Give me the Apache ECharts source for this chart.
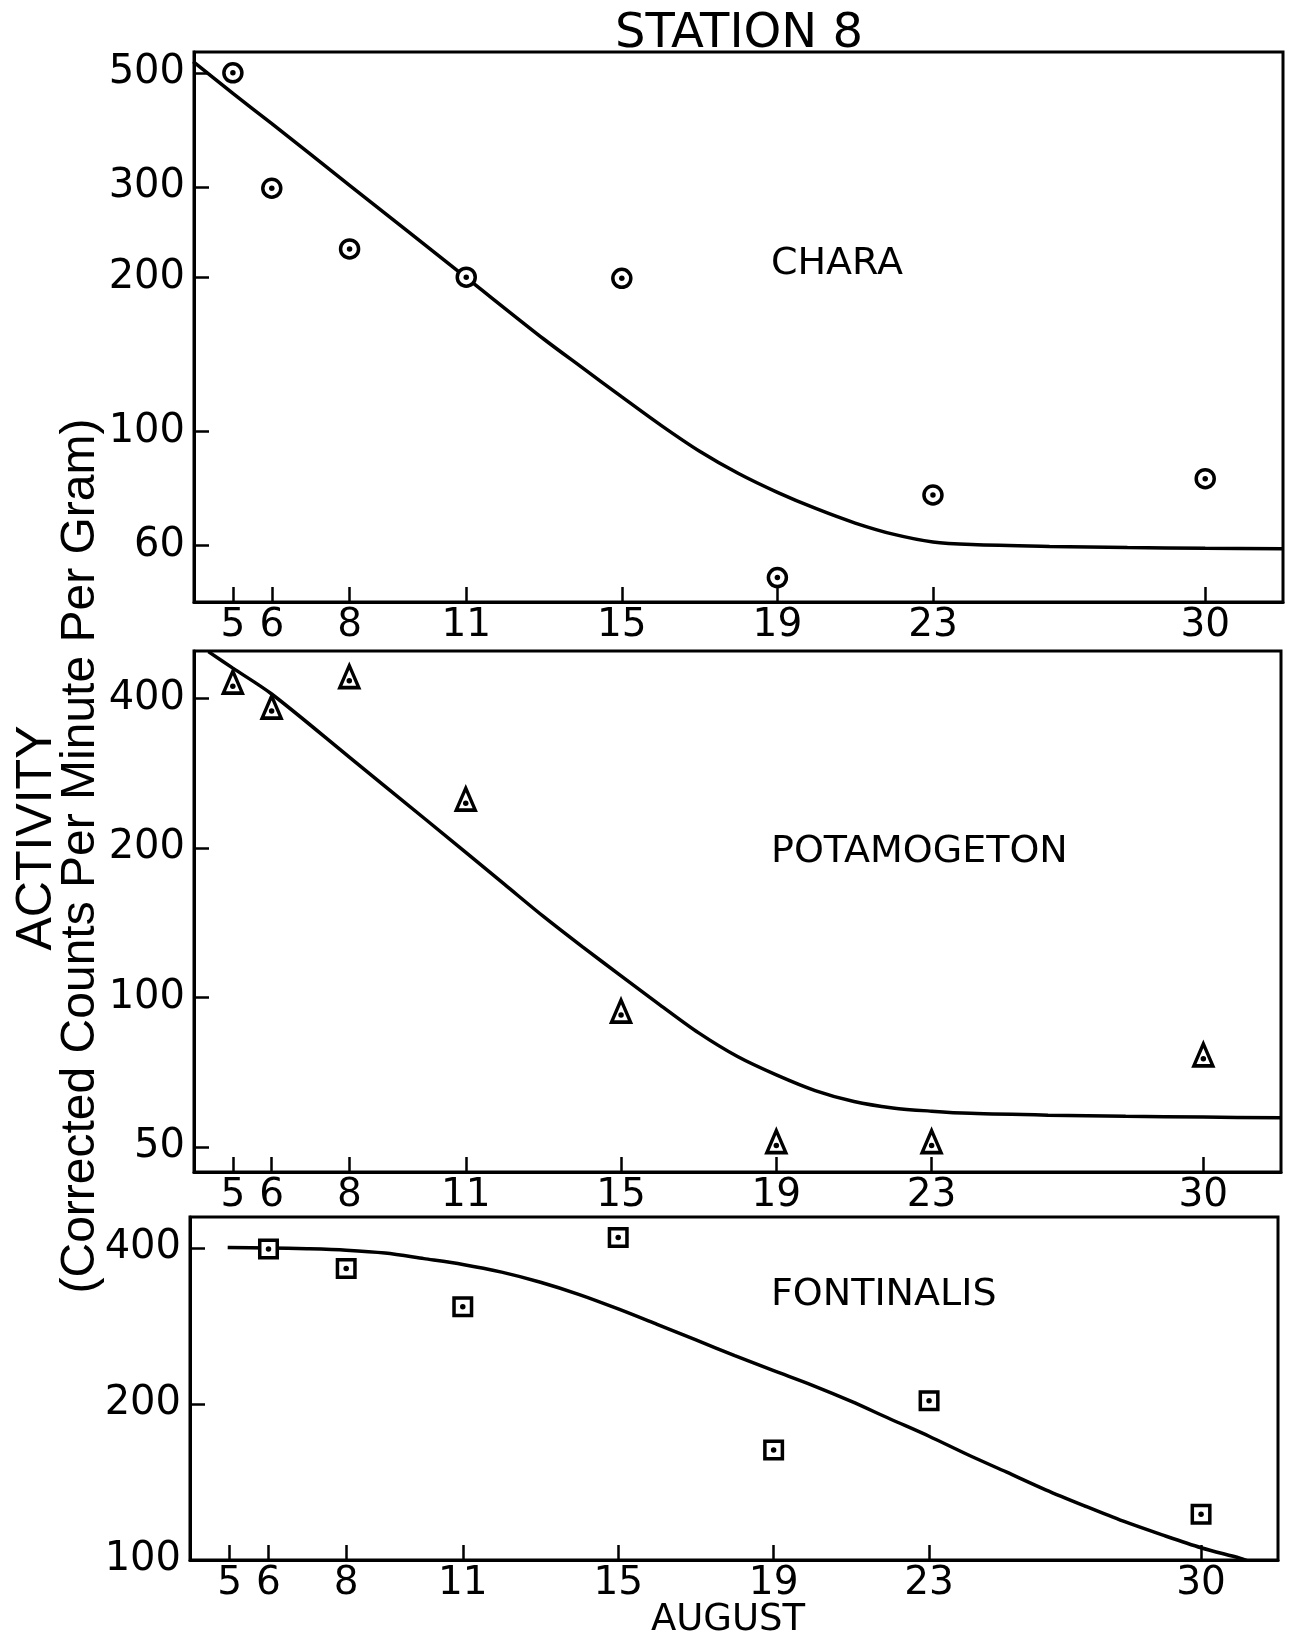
<!DOCTYPE html>
<html>
<head>
<meta charset="utf-8">
<script src="https://cdn.jsdelivr.net/npm/echarts@6/dist/echarts.min.js"></script>
<style>
html,body{margin:0;padding:0;background:#fff;}
#c{width:1295px;height:1638px;}
</style>
</head>
<body>
<div id="c"></div>
<script>
// ---- data ----
const tickDays = [5, 6, 8, 11, 15, 19, 23, 30];

const charaDays = [5, 6, 8, 11, 15, 19, 23, 30];
const charaVals = [500, 298, 227, 200, 199, 52, 75.3, 81];
const charaCurveDays = [3.98, 5, 6, 8, 11, 13, 14, 15, 16, 17, 18, 19, 20, 21, 22, 23, 24, 26, 28, 30, 32];
const charaCurveVals = [526, 456, 398, 302, 199.6, 151.4, 133, 116.9, 103, 91.6, 82.9, 76.2, 70.8, 66.4, 63.1, 61.0, 60.3, 59.8, 59.5, 59.3, 59.2];
const charaTicks = [60, 100, 200, 300, 500];

const potDays = [5, 6, 8, 11, 15, 19, 23, 30];
const potVals = [423, 377, 434, 246, 92.1, 50.3, 50.3, 75.2];
const potCurveDays = [4.37, 5, 6, 8, 10, 12, 13, 14, 15, 16, 17, 18, 19, 20, 21, 22, 23, 24, 26, 28, 30, 32];
const potCurveVals = [496.5, 460, 408, 304.5, 227, 168.8, 145.5, 126.5, 110.5, 96.6, 84.8, 76.0, 69.8, 64.9, 61.7, 59.9, 59.0, 58.4, 57.9, 57.6, 57.4, 57.2];
const potTicks = [50, 100, 200, 400];

const fontDays = [6, 8, 11, 15, 19, 23, 30];
const fontVals = [398, 365, 308, 419, 163, 203, 122.5];
const fontCurveDays = [4.95, 6, 7, 8, 9, 10, 11, 12, 13, 14, 15, 16, 17, 18, 19, 20, 21, 22, 23, 24, 25, 26, 27, 28, 29, 30, 31, 31.2];
const fontCurveVals = [401, 400, 398.5, 396, 391, 381.5, 371.8, 359.3, 343.5, 325.2, 305.1, 284.9, 265.8, 247.9, 231.9, 217.3, 202.3, 187.1, 173.3, 159.6, 147.7, 136.6, 127.2, 118.8, 111.8, 105.6, 100.8, 99.6];
const fontTicks = [100, 200, 400];

const titleText = 'STATION 8';
const panelNames = ['CHARA', 'POTAMOGETON', 'FONTINALIS'];
const yTitle1 = 'ACTIVITY';
const yTitle2 = '(Corrected Counts Per Minute Per Gram)';
const xTitle = 'AUGUST';

// ---- chart ----
const FONT = "'DejaVu Sans', sans-serif";
const SANS = "'Liberation Sans', 'DejaVu Sans', sans-serif";
const INK = '#000';
const chart = echarts.init(document.getElementById('c'), null, {renderer: 'canvas'});

const pair = (xs, ys) => xs.map((x, i) => [x, ys[i]]);

const grids = [
  {left: 194, top: 52, width: 1089, height: 550},
  {left: 194, top: 651, width: 1087, height: 521},
  {left: 190, top: 1217, width: 1088, height: 343}
].map(g => Object.assign(g, {show: true, borderColor: INK, borderWidth: 3, backgroundColor: 'transparent'}));

const xRanges = [[4, 32], [4, 32], [3.98, 31.98]];
const xAxes = xRanges.map((r, i) => ({
  type: 'value', gridIndex: i, min: r[0], max: r[1],
  splitLine: {show: false},
  axisLine: {show: true, lineStyle: {color: INK, width: 3}},
  axisTick: {show: true, inside: true, length: 15, lineStyle: {color: INK, width: 2.5}, customValues: tickDays},
  axisLabel: {show: true, color: INK, fontFamily: FONT, fontSize: 39, margin: 4, customValues: tickDays}
}));

const yRanges = [[46.6, 549], [44.5, 498], [100, 459]];
const yTicks = [charaTicks, potTicks, fontTicks];
const yAxes = yRanges.map((r, i) => ({
  type: 'log', logBase: 10, gridIndex: i, min: r[0], max: r[1],
  splitLine: {show: false}, minorTick: {show: false},
  axisLine: {show: true, lineStyle: {color: INK, width: 3}},
  axisTick: {show: true, inside: true, length: 15, lineStyle: {color: INK, width: 2.5}, customValues: yTicks[i]},
  axisLabel: {show: true, color: INK, fontFamily: FONT, fontSize: 40, margin: 9, customValues: yTicks[i]}
}));

function markerSeries(idx, days, vals, symbol, size, offset) {
  return [{
    type: 'scatter', xAxisIndex: idx, yAxisIndex: idx,
    data: pair(days, vals), symbol: symbol, symbolSize: size, symbolOffset: offset,
    itemStyle: {color: '#fff', borderColor: INK, borderWidth: 3.5, opacity: 1}, z: 5, silent: true
  }, {
    type: 'scatter', xAxisIndex: idx, yAxisIndex: idx,
    data: pair(days, vals), symbol: 'circle', symbolSize: 5.5,
    itemStyle: {color: INK, opacity: 1}, z: 6, silent: true
  }];
}
function curveSeries(idx, days, vals) {
  return {
    type: 'line', xAxisIndex: idx, yAxisIndex: idx, data: pair(days, vals),
    smooth: 0.3, showSymbol: false, symbol: 'none', clip: true,
    lineStyle: {color: INK, width: 3.5}, z: 4, silent: true
  };
}

const series = [
  curveSeries(0, charaCurveDays, charaCurveVals),
  ...markerSeries(0, charaDays, charaVals, 'circle', 18, [0, 0]),
  curveSeries(1, potCurveDays, potCurveVals),
  ...markerSeries(1, potDays, potVals, 'triangle', [19, 22], [0, -4]),
  curveSeries(2, fontCurveDays, fontCurveVals),
  ...markerSeries(2, fontDays, fontVals, 'rect', 17.5, [0, 0])
];

function txt(x, y, text, size, family, align, rot) {
  return {
    type: 'text', x: x, y: y, rotation: rot || 0,
    style: {text: text, fill: INK, fontSize: size, fontFamily: family,
      textAlign: align || 'center', textVerticalAlign: 'middle'}
  };
}

const graphic = [
  txt(739, 35, titleText, 48, FONT),
  txt(37, 838, yTitle1, 50, SANS, 'center', Math.PI / 2),
  txt(81, 856, yTitle2, 48, SANS, 'center', Math.PI / 2),
  txt(771, 264, panelNames[0], 38, FONT, 'left'),
  txt(771, 852, panelNames[1], 38, FONT, 'left'),
  txt(771, 1295, panelNames[2], 38, FONT, 'left'),
  txt(728, 1620, xTitle, 37, FONT)
];

chart.setOption({
  animation: false,
  backgroundColor: '#fff',
  grid: grids,
  xAxis: xAxes,
  yAxis: yAxes,
  series: series,
  graphic: graphic
});
</script>
</body>
</html>
